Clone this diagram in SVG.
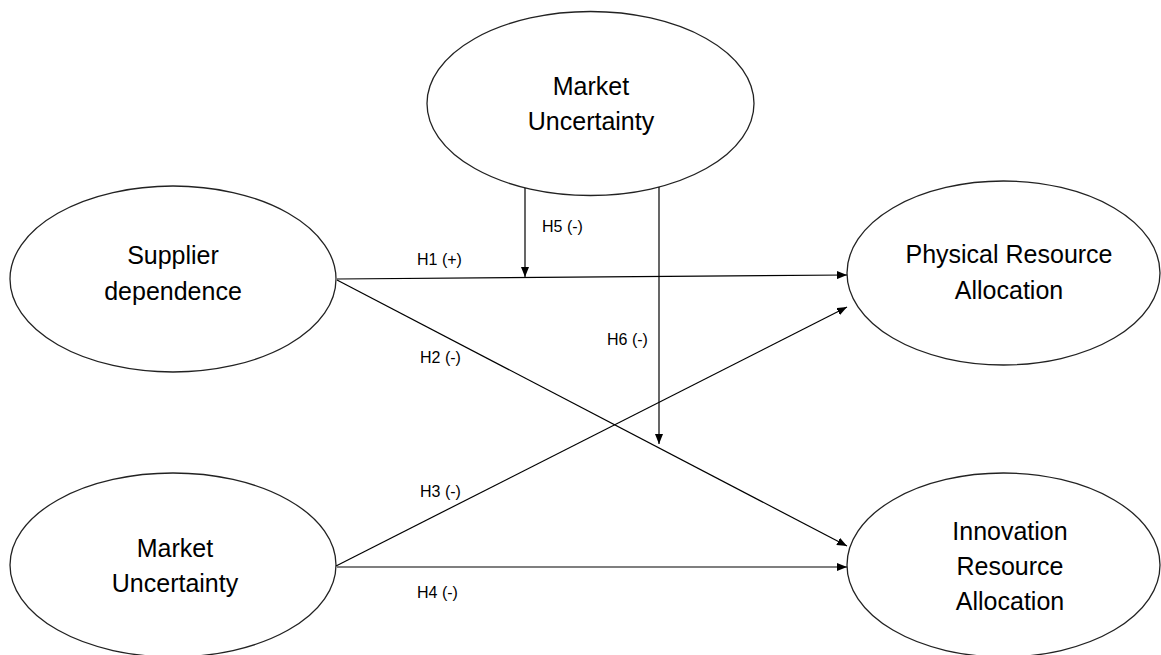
<svg xmlns="http://www.w3.org/2000/svg" width="1161" height="655" viewBox="0 0 1161 655">
<style>
.node ellipse{fill:#fff;stroke:#222;stroke-width:1.3}
.lbl{font-family:"Liberation Sans",Arial,sans-serif;font-size:25px;fill:#000;text-anchor:middle}
.h{font-family:"Liberation Sans",Arial,sans-serif;font-size:16px;fill:#000}
.edges line{stroke:#000;stroke-width:1.2;fill:none;marker-end:url(#arr)}
</style>
<defs>
<marker id="arr" viewBox="0 0 10 8" refX="10" refY="4" markerWidth="10" markerHeight="8" markerUnits="userSpaceOnUse" orient="auto">
<path d="M0,0 L10,4 L0,8 Z" fill="#000"/>
</marker>
</defs>
<rect width="1161" height="655" fill="#fff"/>
<g id="market-top" class="node">
<ellipse cx="590.5" cy="103.5" rx="163.5" ry="92"/>
<text class="lbl" x="591" y="95">Market</text>
<text class="lbl" x="591" y="130">Uncertainty</text>
</g>
<g id="supplier" class="node">
<ellipse cx="173" cy="279" rx="163" ry="93"/>
<text class="lbl" x="173" y="264">Supplier</text>
<text class="lbl" x="173" y="300">dependence</text>
</g>
<g id="physical" class="node">
<ellipse cx="1003.5" cy="273" rx="156.5" ry="92"/>
<text class="lbl" x="1009" y="263">Physical Resource</text>
<text class="lbl" x="1009" y="299">Allocation</text>
</g>
<g id="market-bottom" class="node">
<ellipse cx="173" cy="565" rx="163" ry="92"/>
<text class="lbl" x="175" y="557">Market</text>
<text class="lbl" x="175" y="592">Uncertainty</text>
</g>
<g id="innovation" class="node">
<ellipse cx="1003.5" cy="565" rx="156.5" ry="92"/>
<text class="lbl" x="1010" y="540">Innovation</text>
<text class="lbl" x="1010" y="575">Resource</text>
<text class="lbl" x="1010" y="610">Allocation</text>
</g>
<g id="connectors" class="edges">
<line x1="337" y1="279" x2="847" y2="275"/>
<line x1="525" y1="188" x2="525" y2="277"/>
<line x1="659" y1="187" x2="659" y2="444"/>
<line x1="337" y1="280" x2="847" y2="546"/>
<line x1="336" y1="566" x2="847" y2="307"/>
<line x1="337" y1="567" x2="847" y2="567"/>
</g>
<g id="labels">
<text class="h" x="417" y="265">H1 (+)</text>
<text class="h" x="542" y="232">H5 (-)</text>
<text class="h" x="607" y="345">H6 (-)</text>
<text class="h" x="420" y="363">H2 (-)</text>
<text class="h" x="420" y="497">H3 (-)</text>
<text class="h" x="417" y="598">H4 (-)</text>
</g>
</svg>
